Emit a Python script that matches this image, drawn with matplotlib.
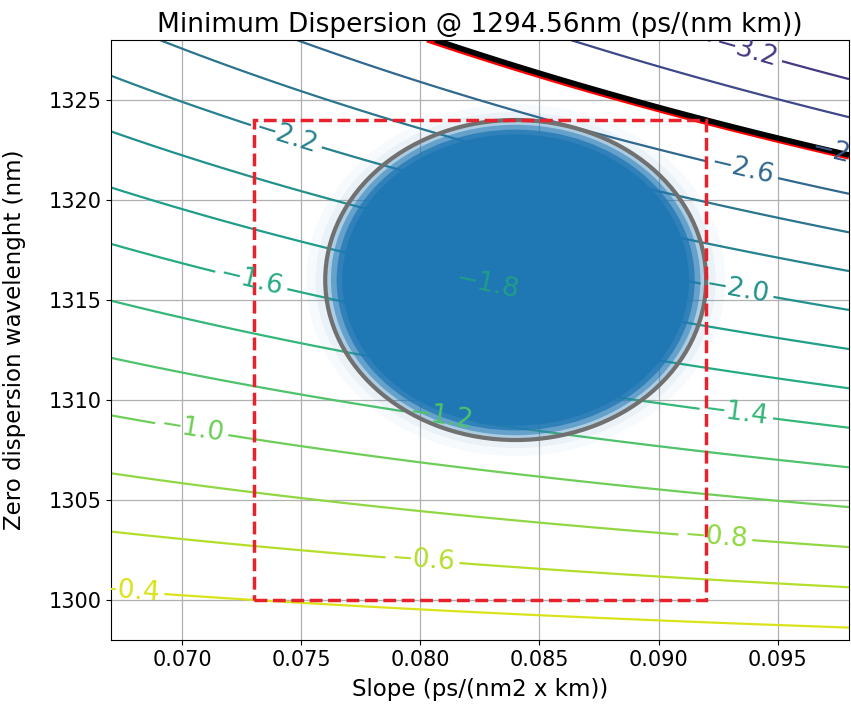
import numpy as np
import matplotlib
matplotlib.use("Agg")
import matplotlib.pyplot as plt
from matplotlib.patches import Ellipse, Rectangle
from matplotlib.colors import Normalize

# operating wavelength (nm)
wavelength = 1294.56

# plotted ranges: slope S0 (ps/(nm2 km)) and zero dispersion wavelength (nm)
slope_range = [0.067, 0.098]
lambda0_range = [1298, 1328]

# contour levels of the dispersion (ps/(nm km))
levels = [-3.2, -3.0, -2.8, -2.6, -2.4, -2.2, -2.0, -1.8, -1.6, -1.4, -1.2, -1.0, -0.8, -0.6, -0.4]
color_limits = [-3.8, -0.2]

# spec box: slope and lambda0 limits
spec_slope = [0.073, 0.092]
spec_lambda0 = [1300, 1324]

# fibre population: centre and half widths
pop_center = [0.084, 1316]
pop_halfwidth = [0.008, 8]

# where the contour labels sit
label_points = [(0.0937, 1327.5), (0.0978, 1322.5), (0.0935, 1321.5), (0.0744, 1323.3),
                (0.0933, 1315.5), (0.0828, 1315.8), (0.0729, 1316.0), (0.0933, 1309.6),
                (0.0809, 1309.6), (0.0704, 1308.6), (0.0924, 1303.3), (0.0801, 1302.2),
                (0.0677, 1300.6)]


def dispersion(s0, l0, lam):
  '''
  Chromatic dispersion of a G.652 fibre at wavelength lam
  '''
  return s0 / 4 * (lam - l0**4 / lam**3)


def fmt_level(v):
  return ("%1.1f" % v).replace("-", "\u2212")


S, L = np.meshgrid(np.linspace(*slope_range, 300), np.linspace(*lambda0_range, 300))
D = dispersion(S, L, wavelength)

# worst case: the corner of the spec box
d_worst = dispersion(spec_slope[1], spec_lambda0[1], wavelength)

fig = plt.figure(figsize=(8.51, 7.08), dpi=100)
ax = fig.add_axes([0.1304, 0.096, 0.8672, 0.8475])
ax.grid(True, color="#b0b0b0", linewidth=0.9)
ax.set_axisbelow(True)

cs = ax.contour(S, L, D, levels=levels, cmap="viridis",
                norm=Normalize(*color_limits), linewidths=1.6)
ax.contour(S, L, D, levels=[d_worst + 0.012], colors="red", linewidths=3.5, linestyles="solid")
ax.contour(S, L, D, levels=[d_worst], colors="black", linewidths=4, linestyles="solid")
ax.clabel(cs, inline=True, fontsize=19, fmt=fmt_level, manual=label_points)

# fibre population
for k, a in [(1.1, 0.03), (1.05, 0.06), (1.0, 0.3), (0.97, 0.5), (0.94, 0.75), (0.91, 1.0)]:
  ax.add_patch(Ellipse(pop_center, 2 * pop_halfwidth[0] * k, 2 * pop_halfwidth[1] * k,
                       facecolor="#1f77b4", edgecolor="none", alpha=a, zorder=2))
ax.add_patch(Ellipse(pop_center, 2 * pop_halfwidth[0], 2 * pop_halfwidth[1],
                     facecolor="none", edgecolor="#707070", linewidth=3, zorder=2.5))

ax.add_patch(Rectangle((spec_slope[0], spec_lambda0[0]), spec_slope[1] - spec_slope[0],
                       spec_lambda0[1] - spec_lambda0[0], facecolor="none",
                       edgecolor="#e8222d", linestyle="--", linewidth=2.5, zorder=2.6))

ax.set_xlim(slope_range)
ax.set_ylim(lambda0_range)
ax.set_xticks([0.070, 0.075, 0.080, 0.085, 0.090, 0.095])
ax.set_yticks([1300, 1305, 1310, 1315, 1320, 1325])
ax.tick_params(labelsize=15)
ax.set_title("Minimum Dispersion @ %.2fnm (ps/(nm km))" % wavelength, fontsize=19)
ax.set_xlabel("Slope (ps/(nm2 x km))", fontsize=16.5, labelpad=6)
ax.set_ylabel("Zero dispersion wavelenght (nm)", fontsize=16.5, labelpad=16)

fig.savefig("out.png", dpi=100)
